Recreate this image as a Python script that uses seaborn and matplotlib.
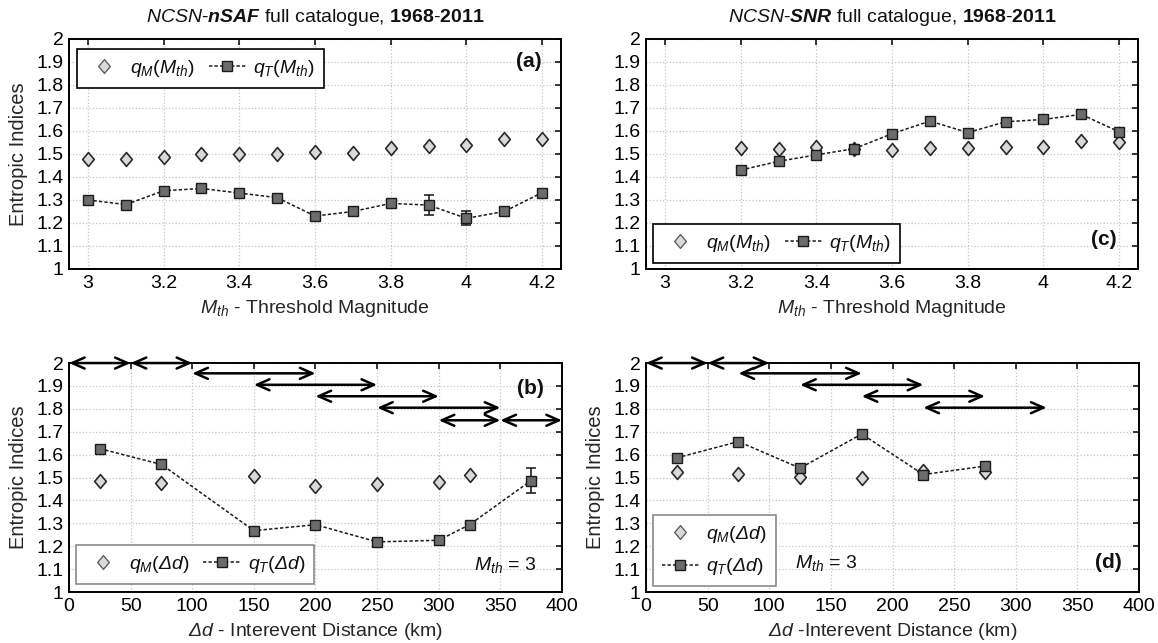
import numpy as np
import pandas as pd
import matplotlib
matplotlib.use("Agg")
import matplotlib.pyplot as plt
from matplotlib.lines import Line2D
from matplotlib.path import Path
import seaborn as sns

# ---------------- data ----------------
# (a) NCSN-nSAF, indices versus threshold magnitude
mth_a = [3.0, 3.1, 3.2, 3.3, 3.4, 3.5, 3.6, 3.7, 3.8, 3.9, 4.0, 4.1, 4.2]
qm_a = [1.478, 1.478, 1.488, 1.500, 1.500, 1.502, 1.510, 1.505, 1.525, 1.533, 1.540, 1.566, 1.567]
qt_a = [1.300, 1.280, 1.340, 1.350, 1.330, 1.310, 1.230, 1.250, 1.285, 1.278, 1.220, 1.250, 1.332]
qt_a_err = [0, 0, 0, 0, 0, 0, 0, 0, 0, 0.042, 0.030, 0, 0.017]

# (c) NCSN-SNR, indices versus threshold magnitude
mth_c = [3.2, 3.3, 3.4, 3.5, 3.6, 3.7, 3.8, 3.9, 4.0, 4.1, 4.2]
qm_c = [1.527, 1.523, 1.530, 1.520, 1.516, 1.527, 1.527, 1.532, 1.530, 1.557, 1.552]
qt_c = [1.430, 1.468, 1.496, 1.523, 1.588, 1.643, 1.593, 1.640, 1.650, 1.672, 1.596]

# (b) NCSN-nSAF, indices versus interevent distance window (Mth = 3)
dist_b_m = [25, 75, 150, 200, 250, 300, 325]
qm_b = [1.486, 1.475, 1.507, 1.464, 1.473, 1.480, 1.510]
dist_b_t = [25, 75, 150, 200, 250, 300, 325, 375]
qt_b = [1.626, 1.557, 1.268, 1.294, 1.219, 1.226, 1.294, 1.487]
qt_b_err = [0, 0, 0, 0, 0, 0, 0, 0.056]

# (d) NCSN-SNR, indices versus interevent distance window (Mth = 3)
dist_d = [25, 75, 125, 175, 225, 275]
qm_d = [1.523, 1.515, 1.502, 1.497, 1.527, 1.523]
qt_d = [1.586, 1.657, 1.541, 1.690, 1.513, 1.550]

# distance windows shown as double arrows
win_b_start = [0, 50, 100, 150, 200, 250, 300, 350]
win_b_end = [50, 100, 200, 250, 300, 350, 350, 400]
win_b_level = [2.0, 2.0, 1.955, 1.905, 1.855, 1.805, 1.75, 1.75]
win_d_start = [0, 50, 75, 125, 175, 225]
win_d_end = [50, 100, 175, 225, 275, 325]
win_d_level = [2.0, 2.0, 1.955, 1.905, 1.855, 1.805]

y_ticks = [1.0, 1.1, 1.2, 1.3, 1.4, 1.5, 1.6, 1.7, 1.8, 1.9, 2.0]
mth_ticks = [3.0, 3.2, 3.4, 3.6, 3.8, 4.0, 4.2]
dist_ticks = [0, 50, 100, 150, 200, 250, 300, 350, 400]

# ---------------- style ----------------
sns.set_theme(style="white")
plt.rcParams["font.family"] = ["Liberation Sans", "DejaVu Sans"]
plt.rcParams.update({
    "mathtext.fontset": "custom",
    "mathtext.rm": "Liberation Sans",
    "mathtext.it": "Liberation Sans:italic",
    "mathtext.bf": "Liberation Sans:bold",
    "mathtext.sf": "Liberation Sans:italic",
    "mathtext.bfit": "Liberation Sans:italic:bold",
    "axes.edgecolor": "black",
    "axes.linewidth": 1.4,
    "text.color": "#111111",
    "xtick.color": "black",
    "ytick.color": "black",
})

FS = 14
DIAMOND = Path([(-0.42, 0.0), (0.0, 0.5), (0.42, 0.0), (0.0, -0.5), (-0.42, 0.0)],
               [Path.MOVETO, Path.LINETO, Path.LINETO, Path.LINETO, Path.CLOSEPOLY])
QM_FACE, QM_EDGE = "#d9d9d9", "#2a2a2a"
QT_FACE, QT_EDGE = "#6c6c6c", "#1a1a1a"
DASH = (0, (2.2, 1.4))

fig = plt.figure(figsize=(11.58, 6.43), dpi=100)
ax_a = fig.add_axes([0.0596, 0.5817, 0.4249, 0.3577])
ax_c = fig.add_axes([0.5579, 0.5817, 0.4249, 0.3577])
ax_b = fig.add_axes([0.0596, 0.0793, 0.4257, 0.3561])
ax_d = fig.add_axes([0.5579, 0.0793, 0.4257, 0.3561])


def draw_indices(ax, xm, qm, xt, qt, err=None):
    dm = pd.DataFrame({"x": xm, "q": qm})
    dt = pd.DataFrame({"x": xt, "q": qt})
    sns.scatterplot(data=dm, x="x", y="q", ax=ax, marker=DIAMOND, s=100,
                    color=QM_FACE, edgecolor=QM_EDGE, linewidth=1.2,
                    zorder=3, legend=False)
    if err is not None:
        ax.errorbar(xt, qt, yerr=err, fmt="none", ecolor="#111111",
                    elinewidth=1.1, capsize=3.5, capthick=1.1, zorder=4)
    sns.lineplot(data=dt, x="x", y="q", ax=ax, sort=False, color="#1a1a1a",
                 linestyle=DASH, linewidth=1.1, marker="s", markersize=7,
                 markerfacecolor=QT_FACE, markeredgecolor=QT_EDGE,
                 markeredgewidth=1.0, zorder=5, legend=False)


def style_axes(ax, xlim, xticks, xlabel, ylabel=True):
    ax.set_xlim(*xlim)
    ax.set_ylim(1, 2)
    ax.set_xticks(xticks)
    ax.set_yticks(y_ticks)
    ax.set_xticklabels([f"{v:g}" for v in xticks])
    ax.set_yticklabels([f"{v:g}" for v in y_ticks])
    ax.grid(True, color="#c4c4c4", linestyle=":", linewidth=0.9)
    ax.tick_params(direction="in", length=4, width=1.1, top=True, right=True,
                   labelsize=FS, pad=4)
    ax.set_xlabel(xlabel, fontsize=FS, labelpad=4.5)
    ax.set_ylabel("Entropic Indices" if ylabel else "", fontsize=FS + 0.5, labelpad=6)
    for sp in ax.spines.values():
        sp.set_linewidth(1.4)
        sp.set_color("black")


def legend(ax, lab_m, lab_t, anchor, ncol, edge, spacing=0.35):
    h_m = Line2D([], [], linestyle="none", marker=DIAMOND, markersize=10,
                 markerfacecolor=QM_FACE, markeredgecolor="#555555", markeredgewidth=0.9)
    h_t = Line2D([], [], color="#1a1a1a", linestyle=DASH, linewidth=1.1, marker="s",
                 markersize=7, markerfacecolor=QT_FACE, markeredgecolor=QT_EDGE)
    lg = ax.legend([h_m, h_t], [lab_m, lab_t], loc="lower left", bbox_to_anchor=anchor,
                   ncol=ncol, fontsize=FS, frameon=True, fancybox=False,
                   borderaxespad=0, handlelength=1.9, handletextpad=0.4,
                   columnspacing=0.7, labelspacing=spacing, borderpad=0.45)
    fr = lg.get_frame()
    fr.set_edgecolor(edge)
    fr.set_linewidth(1.2)
    fr.set_facecolor("white")
    fr.set_alpha(1)
    lg.set_zorder(10)


def windows(ax, starts, ends, levels):
    for x0, x1, lv in zip(starts, ends, levels):
        ax.annotate("", xy=(x1, lv), xytext=(x0, lv), annotation_clip=False,
                    arrowprops=dict(arrowstyle="<->,head_length=0.5,head_width=0.22",
                                    lw=1.8, color="black", shrinkA=0, shrinkB=0,
                                    mutation_scale=18), zorder=6)


mth_label = r"$M_{th}$ - Threshold Magnitude"

# (a)
draw_indices(ax_a, mth_a, qm_a, mth_a, qt_a, qt_a_err)
style_axes(ax_a, (2.95, 4.25), mth_ticks, mth_label)
ax_a.set_title(r"$\mathit{NCSN}$-$\mathbfit{nSAF}$ full catalogue, $\mathbf{1968}$-$\mathbf{2011}$",
               fontsize=FS, pad=12)
legend(ax_a, r"$q_M(M_{th})$", r"$q_T(M_{th})$", (0.016, 0.787), 2, "black")
ax_a.text(0.961, 0.9, "(a)", transform=ax_a.transAxes, ha="right", va="center",
          fontsize=FS + 1, fontweight="bold")

# (c)
draw_indices(ax_c, mth_c, qm_c, mth_c, qt_c)
style_axes(ax_c, (2.95, 4.25), mth_ticks, mth_label, ylabel=False)
ax_c.set_title(r"$\mathit{NCSN}$-$\mathbfit{SNR}$ full catalogue, $\mathbf{1968}$-$\mathbf{2011}$",
               fontsize=FS, pad=12)
legend(ax_c, r"$q_M(M_{th})$", r"$q_T(M_{th})$", (0.014, 0.026), 2, "black")
ax_c.text(0.957, 0.126, "(c)", transform=ax_c.transAxes, ha="right", va="center",
          fontsize=FS + 1, fontweight="bold")

# (b)
draw_indices(ax_b, dist_b_m, qm_b, dist_b_t, qt_b, qt_b_err)
style_axes(ax_b, (0, 400), dist_ticks, r"$\mathsf{\Delta d}$ - Interevent Distance (km)")
windows(ax_b, win_b_start, win_b_end, win_b_level)
legend(ax_b, r"$q_M(\mathsf{\Delta d})$", r"$q_T(\mathsf{\Delta d})$", (0.014, 0.035), 2, "#8a8a8a")
ax_b.text(0.963, 0.89, "(b)", transform=ax_b.transAxes, ha="right", va="center",
          fontsize=FS + 1, fontweight="bold")
ax_b.text(329, 1.096, r"$M_{th}$ = 3", fontsize=FS, va="baseline", ha="left")

# (d)
draw_indices(ax_d, dist_d, qm_d, dist_d, qt_d)
style_axes(ax_d, (0, 400), dist_ticks, r"$\mathsf{\Delta d}$ -Interevent Distance (km)")
windows(ax_d, win_d_start, win_d_end, win_d_level)
legend(ax_d, r"$q_M(\mathsf{\Delta d})$", r"$q_T(\mathsf{\Delta d})$", (0.014, 0.026), 1,
       "#8a8a8a", spacing=0.6)
ax_d.text(0.965, 0.128, "(d)", transform=ax_d.transAxes, ha="right", va="center",
          fontsize=FS + 1, fontweight="bold")
ax_d.text(121, 1.105, r"$M_{th}$ = 3", fontsize=FS, va="baseline", ha="left")

fig.savefig("out.png", dpi=100, facecolor="white")
